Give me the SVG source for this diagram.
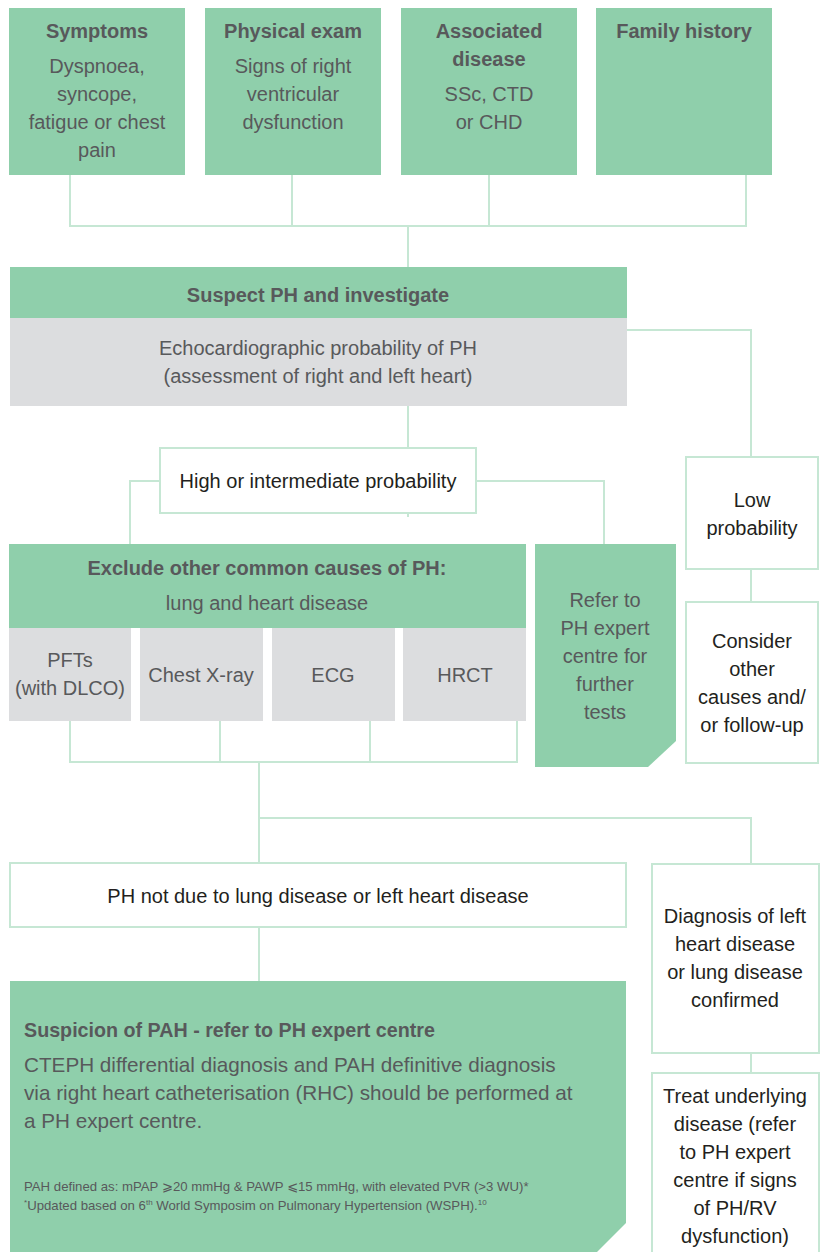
<svg xmlns="http://www.w3.org/2000/svg" width="827" height="1252" viewBox="0 0 827 1252">
<style>
.g{fill:#8fcfab}
.gr{fill:#dcdddf}
.w{fill:#ffffff;stroke:#c6e7d4;stroke-width:2}
.c{fill:none;stroke:#c6e7d4;stroke-width:2}
text{font-family:"Liberation Sans",Arial,sans-serif;font-size:20px;fill:#58595b}
.m{text-anchor:middle}
.b{font-weight:bold}
.k{fill:#231f20}
.s{font-size:13.2px}
.p{font-size:20.7px}
</style>
<rect width="827" height="1252" fill="#ffffff"/>
<g id="connectors">
<path class="c" d="M70,175 V226 H746 V175 M292,175 V226 M489,175 V226 M408,226 V267"/>
<path class="c" d="M627,330 H751 V457"/>
<path class="c" d="M408,406 V517"/>
<path class="c" d="M160,481 H130 V544 M476,481 H604 V544"/>
<path class="c" d="M751,569 V602"/>
<path class="c" d="M70,721 V762 H517 V721 M220,721 V762 M370,721 V762"/>
<path class="c" d="M259,762 V863 M259,818 H751 V864"/>
<path class="c" d="M259,927 V981"/>
<path class="c" d="M751,1053 V1073"/>
</g>
<g id="symptoms">
<rect class="g" x="9" y="8" width="176" height="167"/>
<text class="m b" x="97" y="38">Symptoms</text>
<text class="m" x="97" y="73">Dyspnoea,</text>
<text class="m" x="97" y="101">syncope,</text>
<text class="m" x="97" y="129">fatigue or chest</text>
<text class="m" x="97" y="157">pain</text>
</g>
<g id="physical-exam">
<rect class="g" x="205" y="8" width="176" height="167"/>
<text class="m b" x="293" y="38">Physical exam</text>
<text class="m" x="293" y="73">Signs of right</text>
<text class="m" x="293" y="101">ventricular</text>
<text class="m" x="293" y="129">dysfunction</text>
</g>
<g id="associated-disease">
<rect class="g" x="401" y="8" width="176" height="167"/>
<text class="m b" x="489" y="38">Associated</text>
<text class="m b" x="489" y="66">disease</text>
<text class="m" x="489" y="101">SSc, CTD</text>
<text class="m" x="489" y="129">or CHD</text>
</g>
<g id="family-history">
<rect class="g" x="596" y="8" width="176" height="167"/>
<text class="m b" x="684" y="38">Family history</text>
</g>
<g id="suspect-ph">
<rect class="g" x="10" y="267" width="617" height="51"/>
<text class="m b" x="318" y="302">Suspect PH and investigate</text>
<rect class="gr" x="10" y="318" width="617" height="88"/>
<text class="m" x="318" y="355">Echocardiographic probability of PH</text>
<text class="m" x="318" y="383">(assessment of right and left heart)</text>
</g>
<g id="high-probability">
<rect class="w" x="160" y="448" width="316" height="65"/>
<text class="m k" x="318" y="488">High or intermediate probability</text>
</g>
<g id="low-probability">
<rect class="w" x="686" y="457" width="132" height="112"/>
<text class="m k" x="752" y="507">Low</text>
<text class="m k" x="752" y="535">probability</text>
</g>
<g id="exclude">
<rect class="g" x="9" y="544" width="517" height="84"/>
<text class="m b" x="267" y="575">Exclude other common causes of PH:</text>
<text class="m" x="267" y="610">lung and heart disease</text>
</g>
<g id="pfts">
<rect class="gr" x="9" y="628" width="122" height="93"/>
<text class="m" x="70" y="667">PFTs</text>
<text class="m" x="70" y="695">(with DLCO)</text>
</g>
<g id="chest-xray">
<rect class="gr" x="140" y="628" width="123" height="93"/>
<text class="m" x="201" y="682">Chest X-ray</text>
</g>
<g id="ecg">
<rect class="gr" x="272" y="628" width="123" height="93"/>
<text class="m" x="333" y="682">ECG</text>
</g>
<g id="hrct">
<rect class="gr" x="403" y="628" width="123" height="93"/>
<text class="m" x="465" y="682">HRCT</text>
</g>
<g id="refer">
<polygon class="g" points="535,544 676,544 676,741 648,767 535,767"/>
<text class="m" x="605" y="607">Refer to</text>
<text class="m" x="605" y="635">PH expert</text>
<text class="m" x="605" y="663">centre for</text>
<text class="m" x="605" y="691">further</text>
<text class="m" x="605" y="719">tests</text>
</g>
<g id="consider">
<rect class="w" x="686" y="602" width="132" height="161"/>
<text class="m k" x="752" y="648">Consider</text>
<text class="m k" x="752" y="676">other</text>
<text class="m k" x="752" y="704">causes and/</text>
<text class="m k" x="752" y="732">or follow-up</text>
</g>
<g id="ph-not-due">
<rect class="w" x="10" y="863" width="616" height="64"/>
<text class="m k" x="318" y="903">PH not due to lung disease or left heart disease</text>
</g>
<g id="diagnosis-confirmed">
<rect class="w" x="652" y="864" width="167" height="189"/>
<text class="m k" x="735" y="923">Diagnosis of left</text>
<text class="m k" x="735" y="951">heart disease</text>
<text class="m k" x="735" y="979">or lung disease</text>
<text class="m k" x="735" y="1007">confirmed</text>
</g>
<g id="suspicion-pah">
<polygon class="g" points="10,981 626,981 626,1223 597,1252 10,1252"/>
<text class="b" x="24" y="1037" style="font-size:19.7px">Suspicion of PAH - refer to PH expert centre</text>
<text class="p" x="24" y="1072">CTEPH differential diagnosis and PAH definitive diagnosis</text>
<text class="p" x="24" y="1100">via right heart catheterisation (RHC) should be performed at</text>
<text class="p" x="24" y="1128">a PH expert centre.</text>
<text class="s" x="24" y="1191">PAH defined as: mPAP <tspan font-family="DejaVu Sans, sans-serif">⩾</tspan>20 mmHg &amp; PAWP <tspan font-family="DejaVu Sans, sans-serif">⩽</tspan>15 mmHg, with elevated PVR (&gt;3 WU)*</text>
<text class="s" x="24" y="1210"><tspan font-size="8" dy="-5">*</tspan><tspan dy="5">Updated based on 6</tspan><tspan font-size="8" dy="-5">th</tspan><tspan dy="5"> World Symposim on Pulmonary Hypertension (WSPH).</tspan><tspan font-size="8" dy="-5">10</tspan></text>
</g>
<g id="treat">
<rect class="w" x="652" y="1073" width="167" height="190"/>
<text class="m k" x="735" y="1103">Treat underlying</text>
<text class="m k" x="735" y="1131">disease (refer</text>
<text class="m k" x="735" y="1159">to PH expert</text>
<text class="m k" x="735" y="1187">centre if signs</text>
<text class="m k" x="735" y="1215">of PH/RV</text>
<text class="m k" x="735" y="1243">dysfunction)</text>
</g>
</svg>
